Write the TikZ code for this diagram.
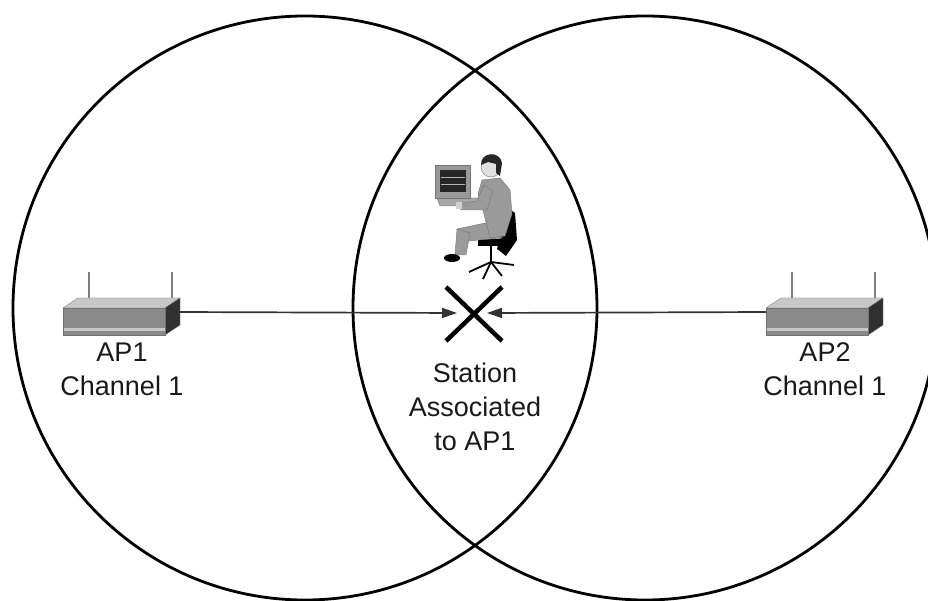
\documentclass[tikz,border=0pt]{standalone}
\usepackage{fontspec}
\setmainfont{Liberation Sans}
\usetikzlibrary{calc,arrows.meta}

\definecolor{apfront}{HTML}{8A8A8A}
\definecolor{aptop}{HTML}{C8C8C8}
\definecolor{apside}{HTML}{303030}
\definecolor{suit}{HTML}{9A9A9A}

\begin{document}
\begin{tikzpicture}[x=1pt,y=-1pt,
    zone/.style={line width=2.8pt},
    face/.style={fill=#1,draw=black!55,line width=0.4pt},
    link/.style={draw=black!80,line width=1.7pt,-{Triangle[length=15pt,width=10pt]}},
    lbl/.style={font=\fontsize{27}{34}\selectfont,align=center,text=black!90}]
    \useasboundingbox (0,0) rectangle (928,601);
    \clip (0,0) rectangle (928,601);
    % coverage cells
    \coordinate (C1) at (305,308);
    \coordinate (C2) at (645,308);
    \draw[zone] (C1) circle[radius=292pt] (C2) circle[radius=292pt];
    % access points
    \foreach \n/\x/\lab in {ap1/63/AP1,ap2/766/AP2}{
        \draw[gray,line width=1.8pt] (\x+26,304) -- ++(0,-32) (\x+109,299) -- ++(0,-27);
        \draw[face=aptop] (\x,308) -- ++(15,-10) -- ++(102,0) -- ++(-15,10) -- cycle;
        \draw[face=apside] (\x+102,308) -- ++(15,-10) -- ++(0,27) -- ++(-15,10) -- cycle;
        \draw[face=apfront] (\x,308) rectangle ++(102,27);
        \fill[aptop] (\x+0.5,328) rectangle ++(101,2.5);
        \coordinate (\n-w) at (\x,312);
        \coordinate (\n-e) at (\x+117,312);
        \node[lbl,anchor=north] (\n-lbl) at (\x+59,339) {\lab\\Channel 1};
    }
    % the station
    \coordinate (sta) at (474,313);
    \coordinate (sta-w) at ($(sta)+(-17,0)$);
    \coordinate (sta-e) at ($(sta)+(13,0)$);
    \draw[link] (ap1-e) -- (sta-w);
    \draw[link] (ap2-w) -- (sta-e);
    \draw[line width=4.5pt] ($(sta)+(-28,-26)$) -- ($(sta)+(28,28)$)
        ($(sta)+(28,-26)$) -- ($(sta)+(-28,28)$);
    \node[lbl] (sta-lbl) at (475,407) {Station\\Associated\\to AP1};
    % user at the terminal
    \draw[face=gray!70] (437,198) -- (478,198) -- (482,206) -- (440,206) -- cycle;
    \draw[face=gray!80] (435,165) rectangle (470,198);
    \fill[black!85] (440,170) rectangle (466,192);
    \draw[gray!60,line width=0.8pt] (441,177) -- (465,177) (441,184) -- (465,184);
    \fill[black] (508,208) -- (515,213) -- (517,240) -- (506,256) -- (497,249) -- cycle;
    \fill[black] (478,239) rectangle (506,246);
    \draw[black,line width=2.5pt] (491,246) -- (491,262);
    \foreach \t in {(469,272),(483,279),(502,276),(514,265)}
        \draw[black,line width=1.8pt] (491,262) -- \t;
    \draw[face=suit] (490,222) -- (502,238) -- (468,241) -- (457,229) -- cycle;
    \draw[face=suit] (457,229) -- (470,233) -- (466,255) -- (455,255) -- cycle;
    \fill[black] (452,258) ellipse[x radius=8pt,y radius=4pt];
    \draw[face=suit] (482,180) -- (500,178) -- (510,190) -- (512,214)
        -- (505,236) -- (490,238) -- (484,214) -- (478,194) -- cycle;
    \draw[face=suit] (484,185) -- (493,191) -- (487,210) -- (461,210) -- (457,204) -- (477,201) -- cycle;
    \fill[gray!35] (456,202) rectangle (462,209);
    \draw[face=gray!25] (491,167) circle[radius=10pt];
    \fill[black!85] (481,165) .. controls (480,152) and (500,150) .. (502,163)
        -- (500,176) -- (496,173) -- (496,164) -- (488,162) -- cycle;
\end{tikzpicture}
\end{document}
